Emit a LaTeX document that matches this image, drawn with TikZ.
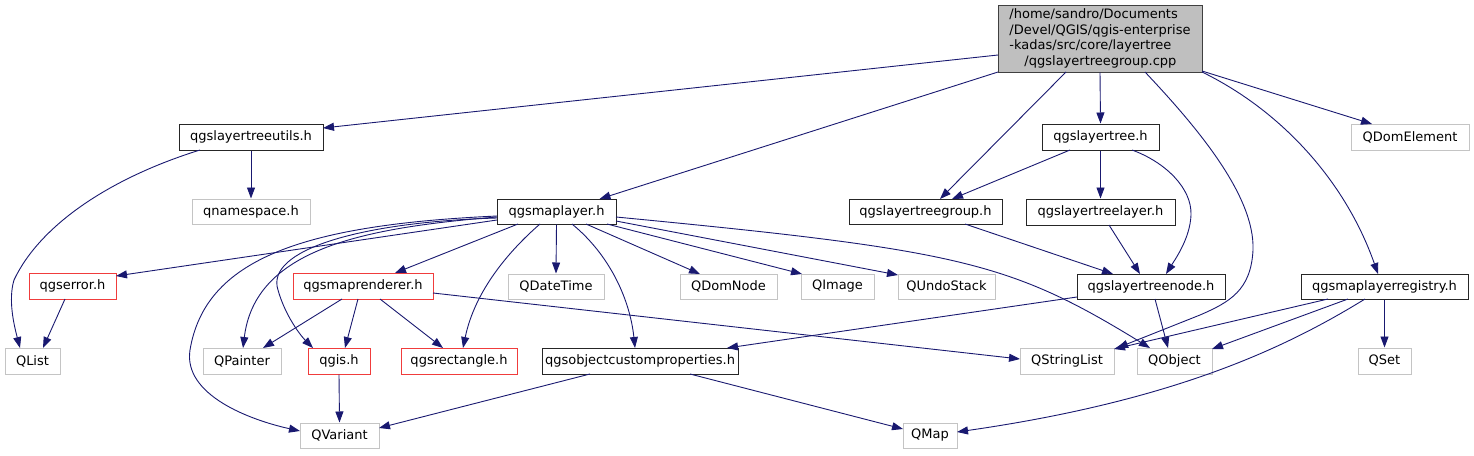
\documentclass[tikz,border=0pt]{standalone}
\usepackage{fontspec}
\setmainfont{DejaVu Sans}
\usetikzlibrary{arrows.meta,calc}
\definecolor{edgecol}{HTML}{191970}
\definecolor{greybd}{HTML}{C4C4C4}
\definecolor{redbd}{HTML}{F03C3C}
\definecolor{mainfill}{HTML}{BFBFBF}
\begin{document}
\begin{tikzpicture}[x=1pt,y=-1pt,
  box/.style={draw, inner sep=0pt, line width=1pt, font=\fontsize{13}{15.5}\selectfont},
  blackbox/.style={box, draw=black!85},
  greybox/.style={box, draw=greybd},
  redbox/.style={box, draw=redbd},
  mainbox/.style={box, draw=black!75, fill=mainfill, align=left},
  edge/.style={draw=edgecol, line width=0.9pt, -{Triangle[length=11pt,width=8pt]}}]
\useasboundingbox (0,0) rectangle (1474,455);
% nodes
\node[mainbox, minimum width=204pt, minimum height=67pt] (main) at (1100,38.5)
  {/home/sandro/Documents\\/Devel/QGIS/qgis-enterprise\\-kadas/src/core/layertree\\\hspace*{15pt}/qgslayertreegroup.cpp};
\node[blackbox, minimum width=144pt, minimum height=26pt] (utils) at (251,137) {qgslayertreeutils.h};
\node[greybox, minimum width=118pt, minimum height=25pt] (qns) at (251,211.5) {qnamespace.h};
\node[blackbox, minimum width=119pt, minimum height=25pt] (maplayer) at (556.5,211.5) {qgsmaplayer.h};
\node[blackbox, minimum width=153pt, minimum height=25pt] (ltgroup) at (925.5,211.5) {qgslayertreegroup.h};
\node[blackbox, minimum width=117pt, minimum height=26pt] (lttree) at (1100.5,137) {qgslayertree.h};
\node[greybox, minimum width=118pt, minimum height=26pt] (QDomElement) at (1410,137) {QDomElement};
\node[blackbox, minimum width=149pt, minimum height=26pt] (ltlayer) at (1100.5,212) {qgslayertreelayer.h};
\node[blackbox, minimum width=148pt, minimum height=25pt] (ltnode) at (1151,286.5) {qgslayertreenode.h};
\node[blackbox, minimum width=167pt, minimum height=25pt] (registry) at (1384.5,286.5) {qgsmaplayerregistry.h};
\node[greybox, minimum width=94pt, minimum height=26pt] (QStringList) at (1067,361) {QStringList};
\node[greybox, minimum width=75pt, minimum height=26pt] (QObject) at (1174.5,361) {QObject};
\node[greybox, minimum width=53pt, minimum height=26pt] (QSet) at (1384.5,361) {QSet};
\node[greybox, minimum width=96pt, minimum height=25pt] (QDateTime) at (556,286.5) {QDateTime};
\node[greybox, minimum width=97pt, minimum height=25pt] (QDomNode) at (728.5,286.5) {QDomNode};
\node[greybox, minimum width=73pt, minimum height=25pt] (QImage) at (837.5,286.5) {QImage};
\node[greybox, minimum width=97pt, minimum height=25pt] (QUndoStack) at (946.5,286.5) {QUndoStack};
\node[redbox, minimum width=87pt, minimum height=26pt] (qgserror) at (72.5,286) {qgserror.h};
\node[greybox, minimum width=55pt, minimum height=26pt] (QList) at (32.5,361) {QList};
\node[redbox, minimum width=140pt, minimum height=26pt] (maprenderer) at (363,286) {qgsmaprenderer.h};
\node[greybox, minimum width=78pt, minimum height=26pt] (QPainter) at (242,361) {QPainter};
\node[redbox, minimum width=62pt, minimum height=26pt] (qgis) at (339,361) {qgis.h};
\node[redbox, minimum width=116pt, minimum height=26pt] (qgsrect) at (459,361) {qgsrectangle.h};
\node[greybox, minimum width=79pt, minimum height=25pt] (QVariant) at (339.5,435.5) {QVariant};
\node[blackbox, minimum width=196pt, minimum height=26pt] (objcustom) at (640,361) {qgsobjectcustomproperties.h};
\node[greybox, minimum width=54pt, minimum height=25pt] (QMap) at (930,435.5) {QMap};
% edges from main
\draw[edge] ($(main)+(-102,16.5)$) -- ($(utils)+(72,-9)$);
\draw[edge] ($(main)+(-102,33.5)$) -- ($(maplayer)+(43,-12.5)$);
\draw[edge] ($(main)+(-34,33.5)$) -- ($(ltgroup)+(14.5,-12.5)$);
\draw[edge] (main.south) -- (lttree.north);
\draw[edge] ($(main)+(45,33.5)$) .. controls (1195,125) and (1255,195) .. (1253,250) .. controls (1251,290) and (1230,302) .. (1200,315) -- ($(QStringList)+(50,-13)$);
\draw[edge] ($(main)+(102,33.5)$) .. controls (1280,110) and (1345,180) .. ($(registry)+(-6.5,-12.5)$);
\draw[edge] ($(main)+(102,32.5)$) -- ($(QDomElement)+(-38,-13)$);
% utils
\draw[edge] (utils.south) -- (qns.north);
\draw[edge] ($(utils)+(-51,13)$) .. controls (110,178) and (40,225) .. (14,280) .. controls (8,300) and (14,325) .. ($(QList)+(-12.5,-13)$);
% layertree
\draw[edge] ($(lttree)+(-30.5,13)$) -- ($(ltgroup)+(26.5,-12.5)$);
\draw[edge] (lttree.south) -- (ltlayer.north);
\draw[edge] ($(lttree)+(31.5,13)$) .. controls (1165,162) and (1192,188) .. (1191,215) .. controls (1190,238) and (1176,258) .. ($(ltnode)+(15,-12.5)$);
\draw[edge] ($(ltgroup)+(39.5,12.5)$) -- ($(ltnode)+(-38,-12.5)$);
\draw[edge] ($(ltlayer)+(8.5,13)$) -- ($(ltnode)+(-11,-12.5)$);
\draw[edge] ($(ltnode)+(-74,10.5)$) -- ($(objcustom)+(87,-13)$);
\draw[edge] ($(ltnode)+(4,12.5)$) -- ($(QObject)+(-6.5,-13)$);
% maplayer
\draw[edge] ($(maplayer)+(-59.5,8.5)$) -- ($(qgserror)+(43.5,-10)$);
\draw[edge] ($(maplayer)+(-59.5,5.5)$) .. controls (360,228) and (255,250) .. ($(QPainter)+(1,-13)$);
\draw[edge] ($(maplayer)+(-59.5,6.5)$) .. controls (360,222) and (265,250) .. (278,290) .. controls (285,315) and (300,335) .. ($(qgis)+(-26,-13)$);
\draw[edge] ($(maplayer)+(-59.5,4.5)$) .. controls (300,225) and (205,260) .. (190,350) .. controls (183,395) and (250,420) .. ($(QVariant)+(-39.5,-4.5)$);
\draw[edge] ($(maplayer)+(-38.5,12.5)$) -- ($(maprenderer)+(32,-13)$);
\draw[edge] ($(maplayer)+(-16.5,12.5)$) .. controls (510,250) and (475,290) .. ($(qgsrect)+(4,-13)$);
\draw[edge] (maplayer.south) -- (QDateTime.north);
\draw[edge] ($(maplayer)+(15.5,12.5)$) .. controls (610,255) and (630,300) .. ($(objcustom)+(-5,-13)$);
\draw[edge] ($(maplayer)+(29.5,12.5)$) -- ($(QDomNode)+(-28.5,-12.5)$);
\draw[edge] ($(maplayer)+(50.5,12.5)$) -- ($(QImage)+(-35.5,-12.5)$);
\draw[edge] ($(maplayer)+(59.5,9.5)$) -- ($(QUndoStack)+(-48.5,-11.5)$);
\draw[edge] ($(maplayer)+(59.5,5.5)$) .. controls (960,250) and (1010,262) .. ($(QObject)+(-24.5,-13)$);
% maprenderer
\draw[edge] ($(maprenderer)+(-21,13)$) -- ($(QPainter)+(21,-13)$);
\draw[edge] ($(maprenderer)+(-5,13)$) -- ($(qgis)+(6,-13)$);
\draw[edge] ($(maprenderer)+(17,13)$) -- ($(qgsrect)+(-16,-13)$);
\draw[edge] ($(maprenderer)+(70,7)$) -- ($(QStringList)+(-47,-2)$);
% others
\draw[edge] ($(qgserror)+(-7.5,13)$) -- ($(QList)+(10.5,-13)$);
\draw[edge] (qgis.south) -- (QVariant.north);
\draw[edge] ($(objcustom)+(-50,13)$) -- ($(QVariant)+(39.5,-7.5)$);
\draw[edge] ($(objcustom)+(50,13)$) -- ($(QMap)+(-27,-6.5)$);
\draw[edge] ($(registry)+(-56.5,12.5)$) -- ($(QStringList)+(47,-12)$);
\draw[edge] ($(registry)+(-36.5,12.5)$) -- ($(QObject)+(37.5,-12)$);
\draw[edge] (registry.south) -- (QSet.north);
\draw[edge] ($(registry)+(-19.5,12.5)$) .. controls (1290,345) and (1180,400) .. ($(QMap)+(27,-3.5)$);
\end{tikzpicture}
\end{document}
